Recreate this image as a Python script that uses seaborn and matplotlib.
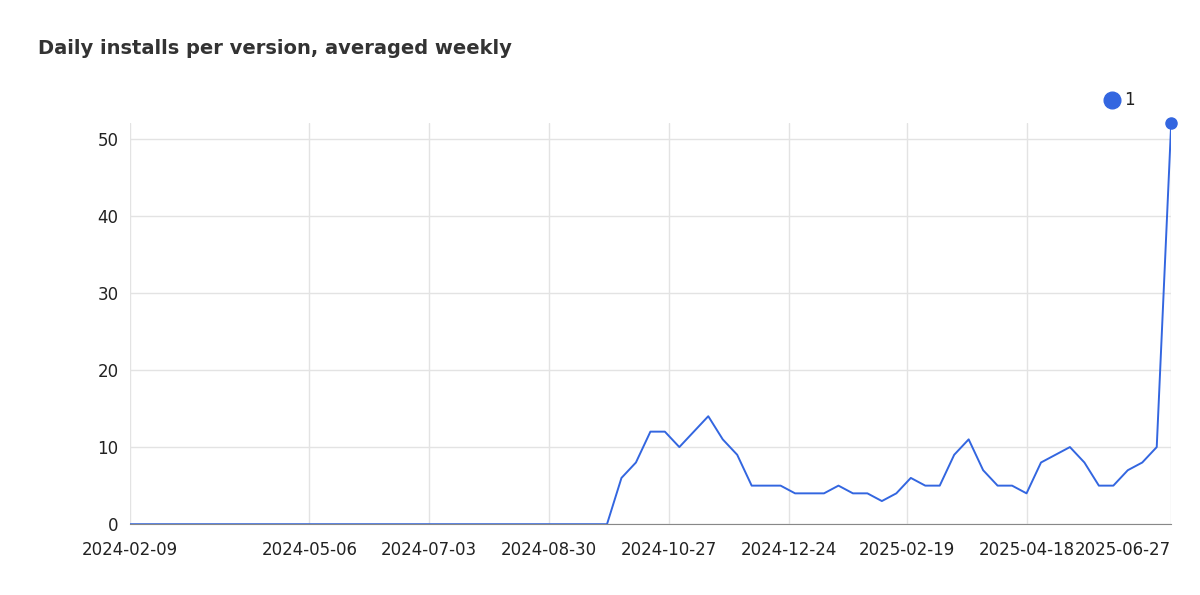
import pandas as pd
import numpy as np
import matplotlib.pyplot as plt
import matplotlib.dates as mdates
import seaborn as sns

start = "2024-02-09"
n_weeks = 73
installs = [0] * 34 + [6, 8, 12, 12, 10, 12, 14, 11, 9, 5, 5, 5, 4, 4, 4, 5, 4, 4, 3, 4,
                       6, 5, 5, 9, 11, 7, 5, 5, 4, 8, 9, 10, 8, 5, 5, 7, 8, 10, 52]
tick_dates = ["2024-02-09", "2024-05-06", "2024-07-03", "2024-08-30", "2024-10-27",
              "2024-12-24", "2025-02-19", "2025-04-18", "2025-06-27"]
yticks = [0, 10, 20, 30, 40, 50]

df = pd.DataFrame({"date": pd.date_range(start, periods=n_weeks, freq="7D"),
                   "installs": installs, "version": "1"})
color = "#3366e0"

sns.set_style("white")
fig = plt.figure(figsize=(12, 5.95), dpi=100)
ax = fig.add_axes([0.108, 0.119, 0.868, 0.674])
sns.lineplot(data=df, x="date", y="installs", color=color, lw=1.4, ax=ax, legend=False)
ax.plot(df["date"].iloc[-1], installs[-1], "o", color=color, ms=8, clip_on=False)

tds = pd.to_datetime(tick_dates)
ax.set_xticks(tds)
ax.set_xticklabels(tick_dates)
ax.set_xlim(df["date"].iloc[0], df["date"].iloc[-1])
ax.set_ylim(0, 52)
ax.set_yticks(yticks)
ax.grid(True, color="#e3e3e3", lw=1)
for s in ["top", "right", "left"]:
    ax.spines[s].set_visible(False)
ax.spines["bottom"].set_color("#888888")
ax.tick_params(length=0, labelsize=12, colors="#222222", pad=8)
ax.tick_params(axis="x", pad=12)
labels = ax.get_xticklabels()
labels[-1].set_ha("right")
ax.set_xlabel("")
ax.set_ylabel("")

fig.text(0.032, 0.91, "Daily installs per version, averaged weekly",
         fontsize=14, fontweight="bold", color="#333333")
fig.lines.append(plt.Line2D([0.927], [0.832], marker="o", ms=12, color=color,
                            transform=fig.transFigure))
fig.text(0.937, 0.832, "1", fontsize=12, va="center", color="#222222")

fig.savefig("out.png", dpi=100)
